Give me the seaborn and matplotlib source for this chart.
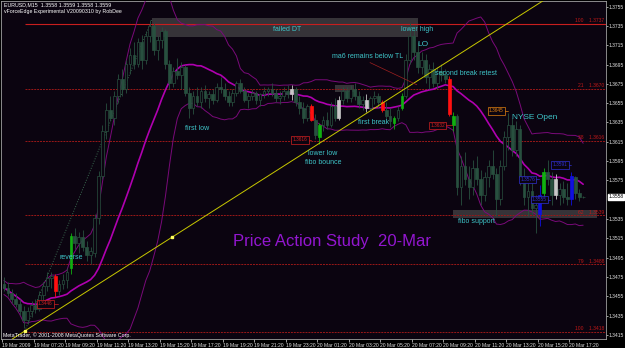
import numpy as np
import pandas as pd
import matplotlib
matplotlib.use("Agg")
import matplotlib.pyplot as plt
import matplotlib.transforms as mtransforms
from matplotlib.patches import Rectangle
import seaborn as sns

# EURUSD M15 bars, prices in pips above 1.3400
opens = [68, 64, 58, 52, 47, 40, 30, 40, 46, 42, 56, 66, 74, 76, 60, 68, 72, 84, 117, 110,
         116, 106, 98, 100, 136, 180, 226, 248, 240, 262, 280, 270, 296, 305, 296, 318, 300, 325, 335, 310,
         320, 330, 296, 276, 288, 284, 292, 266, 250, 262, 256, 268, 260, 264, 258, 272, 270, 262, 256, 266,
         276, 268, 258, 262, 266, 258, 264, 268, 270, 266, 260, 262, 268, 264, 270, 256, 250, 240, 252, 238,
         220, 232, 238, 232, 252, 240, 258, 268, 260, 270, 262, 254, 258, 250, 260, 262, 256, 248, 242, 234,
         240, 250, 262, 300, 325, 308, 292, 300, 282, 290, 276, 288, 284, 280, 232, 242, 168, 190, 176, 168,
         188, 176, 160, 178, 190, 182, 156, 190, 220, 232, 206, 228, 178, 158, 164, 146, 160, 162, 184, 176,
         176, 160, 166, 158, 156, 178, 162, 158]
highs = [75, 70, 62, 58, 52, 45, 44, 50, 52, 60, 70, 80, 80, 78, 72, 78, 84, 120, 126, 122,
         124, 112, 106, 140, 185, 232, 255, 262, 268, 285, 290, 300, 312, 318, 322, 326, 330, 341, 338, 325,
         334, 332, 300, 292, 302, 298, 294, 272, 268, 272, 272, 274, 268, 270, 276, 282, 276, 268, 270, 278,
         280, 272, 266, 270, 268, 266, 272, 272, 276, 270, 268, 272, 274, 274, 272, 262, 256, 254, 254, 244,
         234, 242, 246, 256, 260, 262, 272, 272, 274, 276, 268, 262, 264, 262, 268, 266, 258, 256, 250, 242,
         252, 266, 306, 338, 334, 318, 308, 306, 296, 298, 292, 296, 290, 283, 246, 244, 200, 204, 190, 196,
         200, 186, 184, 196, 206, 188, 196, 226, 245, 240, 236, 232, 188, 172, 176, 160, 170, 188, 196, 184,
         182, 172, 174, 172, 184, 180, 166, 159]
lows = [60, 55, 48, 44, 36, 22, 26, 34, 38, 40, 50, 60, 64, 54, 56, 62, 64, 78, 104, 100,
        102, 92, 88, 96, 130, 176, 218, 236, 232, 255, 262, 265, 285, 290, 292, 290, 296, 318, 305, 300,
        312, 290, 270, 272, 280, 270, 262, 240, 244, 252, 250, 256, 250, 254, 256, 266, 258, 252, 252, 262,
        266, 256, 250, 258, 254, 252, 260, 262, 262, 256, 254, 258, 260, 258, 252, 244, 234, 236, 236, 218,
        213, 226, 228, 230, 236, 238, 254, 256, 256, 258, 250, 248, 246, 248, 254, 250, 246, 236, 230, 228,
        236, 248, 260, 296, 300, 286, 285, 276, 270, 272, 270, 278, 276, 242, 226, 160, 150, 170, 156, 160,
        170, 150, 154, 168, 176, 138, 150, 186, 206, 200, 200, 170, 150, 138, 140, 120, 128, 156, 170, 150,
        156, 150, 152, 150, 150, 156, 154, 157]
closes = [64, 58, 52, 47, 40, 30, 40, 46, 42, 56, 66, 74, 76, 60, 68, 72, 80, 117, 110, 116,
          106, 98, 102, 136, 180, 226, 248, 240, 262, 280, 270, 296, 305, 296, 318, 300, 325, 335, 310, 320,
          330, 296, 276, 288, 284, 292, 266, 250, 262, 256, 268, 260, 264, 258, 272, 270, 262, 256, 266, 276,
          268, 258, 262, 266, 258, 264, 268, 270, 266, 260, 262, 268, 264, 270, 256, 250, 240, 252, 238, 222,
          232, 238, 232, 252, 240, 258, 268, 260, 270, 262, 254, 258, 250, 260, 262, 256, 248, 242, 236, 240,
          248, 262, 300, 325, 308, 292, 300, 282, 290, 276, 288, 284, 280, 244, 242, 168, 190, 176, 168, 188,
          176, 160, 178, 190, 182, 156, 190, 220, 232, 206, 228, 178, 158, 164, 146, 150, 140, 184, 176, 160,
          160, 166, 158, 156, 180, 162, 158, 158]

# highlighted bars (bar index -> colour)
marked_bars = {13: "#ff1010", 17: "#10b010", 73: "#c8c8c8", 78: "#ff1010", 80: "#10b010",
               85: "#c8c8c8", 92: "#c8c8c8", 96: "#ff1010", 99: "#10b010", 101: "#10b010",
               113: "#ff1010", 114: "#10b010", 136: "#1010e0", 137: "#10b010",
               140: "#c8c8c8", 144: "#1010e0"}

fib_levels = [1.3737, 1.3670, 1.3616, 1.3539, 1.3488, 1.3418]
fib_names = ["100", "21", "38", "62", "79", "100"]
fib_start_bar = 5.3

price_ticks = [1.3755, 1.3735, 1.3715, 1.3695, 1.3675, 1.3655, 1.3635, 1.3615, 1.3595,
               1.3575, 1.3535, 1.3515, 1.3495, 1.3475, 1.3455, 1.3435, 1.3415]
time_labels = ["19 Mar 2009", "19 Mar 07:20", "19 Mar 09:20", "19 Mar 11:20", "19 Mar 13:20",
               "19 Mar 15:20", "19 Mar 17:20", "19 Mar 19:20", "19 Mar 21:20", "19 Mar 23:20",
               "20 Mar 01:20", "20 Mar 03:20", "20 Mar 05:20", "20 Mar 07:20", "20 Mar 09:20",
               "20 Mar 11:20", "20 Mar 13:20", "20 Mar 15:20", "20 Mar 17:20"]

# trendline anchors (bar, price)
trend_bars = [5.3, 42.6]
trend_prices = [1.3419, 1.3516]

# shaded zones: start bar, end bar, low, high
zone_start = [37.6, 84.0, 114.0]
zone_end = [105.1, 88.8, 150.5]
zone_low = [1.3724, 1.3667, 1.3536]
zone_high = [1.3743, 1.3674, 1.3544]

notes = [("failed DT", 71.8, 1.3731, 5), ("lower high", 104.8, 1.3731, 5), ("LO", 106.4, 1.3716, 6),
         ("ma6 remains below TL", 92.4, 1.3703, 5), ("second break retest", 117.3, 1.3686, 5),
         ("first low", 49.0, 1.3629, 5), ("first break", 93.7, 1.3635, 5),
         ("lower low", 81.0, 1.3603, 5), ("fibo bounce", 81.0, 1.3594, 5),
         ("reverse", 17.0, 1.3495, 5), ("NYSE Open", 134.8, 1.3640, 6),
         ("fibo support", 120.0, 1.3532, 5)]

# small price tags: right edge bar, price, text, colour, pointer end bar
tags = [(12.3, 1.3447, "1.3446", "#d02020", 13.7), (77.0, 1.3617, "1.3616", "#d02020", 78.0),
        (111.9, 1.3632, "1.3632", "#d02020", 113.7), (126.8, 1.3647, "1.3645", "#e08010", 128.0),
        (134.8, 1.3576, "1.3576", "#3030d0", 135.8), (137.8, 1.3555, "1.3555", "#3030d0", 138.5),
        (143.0, 1.3591, "1.3591", "#3030d0", 144.0)]

BG = "#0b0410"
BASE = "#28503f"

sns.set_theme(style="dark", rc={"axes.facecolor": BG, "figure.facecolor": "#000000"})
plt.rcParams["font.family"] = ["Liberation Sans", "DejaVu Sans"]

n = len(closes)
bars = np.arange(n)
o = 1.34 + np.array(opens) / 10000
h = 1.34 + np.array(highs) / 10000
l = 1.34 + np.array(lows) / 10000
c = 1.34 + np.array(closes) / 10000

df = pd.DataFrame({"bar": bars, "close": c})
df["mid"] = df["close"].rolling(20, min_periods=1).mean()
sd = df["close"].rolling(20, min_periods=2).std().bfill()
df["upper"] = df["mid"] + 1.7 * sd
df["lower"] = df["mid"] - 1.7 * sd

fig = plt.figure(figsize=(6.25, 3.48), dpi=100)
ax = fig.add_axes([1 / 625, 9 / 348, 605 / 625, 338 / 348])
ax.set_xlim(-0.75, 152.8)
ax.set_ylim(1.34107, 1.37608)

# zones
for x0, x1, y0, y1 in zip(zone_start, zone_end, zone_low, zone_high):
    ax.add_patch(Rectangle((x0, y0), x1 - x0, y1 - y0, facecolor="#5a5a5a", alpha=0.55,
                           edgecolor="none", zorder=1))

# fib lines
x_right = ax.get_xlim()[1]
ax.hlines(fib_levels[0], fib_start_bar, x_right, color="#c81e1e", lw=0.8, zorder=2)
ax.hlines(fib_levels[1:], fib_start_bar, x_right, color="#9a1818", lw=0.7, linestyles=(0, (2, 1)), zorder=2)
for lev, name in zip(fib_levels, fib_names):
    ax.text(x_right - 0.4, lev + 0.00005, f"{name}    {lev:.4f}", ha="right", va="bottom",
            color="#c01818", fontsize=3.6, zorder=6)

# bands
sns.lineplot(data=df, x="bar", y="upper", ax=ax, color="#7a0a7a", lw=0.7, zorder=3)
sns.lineplot(data=df, x="bar", y="lower", ax=ax, color="#7a0a7a", lw=0.7, zorder=3)
sns.lineplot(data=df, x="bar", y="mid", ax=ax, color="#b000b0", lw=1.2, zorder=3)

# candles
wick_col = [marked_bars.get(i, BASE) for i in bars]
face_col = [marked_bars.get(i, BG if c[i] >= o[i] else BASE) for i in bars]
ax.vlines(bars, l, h, colors=wick_col, lw=0.6, zorder=4)
body_lo = np.minimum(o, c)
body_h = np.maximum(np.abs(c - o), 0.00003)
ax.bar(bars, body_h, bottom=body_lo, width=0.7, color=face_col, edgecolor=wick_col,
       linewidth=0.5, zorder=5)

# trendline and the dotted leg line
ax.axline((trend_bars[0], trend_prices[0]), (trend_bars[1], trend_prices[1]),
          color="#c8c800", lw=0.7, zorder=6)
ax.plot(trend_bars, trend_prices, "s", color="#ffff60", ms=2, zorder=7)
ax.plot([trend_bars[0], 37.5], [trend_prices[0], 1.3741], color="#3a6a50", lw=0.7, ls=":", zorder=3)
ax.plot([92.9, 104.8], [1.3697, 1.3674], color="#a02020", lw=0.5, zorder=6)

# texts
for txt, xb, yp, fs in notes:
    ax.text(xb, yp, txt, ha="center", va="center", color="#3ec4c8", fontsize=fs, zorder=8)
ax.text(83.3, 1.3512, "Price Action Study  20-Mar", ha="center", va="center",
        color="#9316d0", fontsize=12, zorder=8)

for xb, yp, txt, col, xe in tags:
    ax.text(xb, yp, txt, ha="right", va="center", color=col, fontsize=3.4, zorder=8,
            bbox=dict(boxstyle="square,pad=0.25", fc=BG, ec=col, lw=0.5))
    ax.plot([xb + 0.3, xe], [yp, yp], color=col, lw=0.5, zorder=8)

fig.text(4 / 625, 1 - 5 / 348, "EURUSD,M15  1.3558 1.3559 1.3558 1.3559", color="white",
         fontsize=3.8, va="center")
fig.text(4 / 625, 1 - 11 / 348, "vForceEdge Experimental V20090310 by RobDee", color="white",
         fontsize=3.8, va="center")
fig.text(3 / 625, 1 - 335 / 348, "MetaTrader, \u00a9 2001-2008 MetaQuotes Software Corp.",
         color="white", fontsize=3.8, va="center")

# axes
ax.yaxis.tick_right()
ax.set_yticks(price_ticks)
ax.set_yticklabels([f"{t:.4f}" for t in price_ticks])
ax.set_xticks([8 * k - 0.5 for k in range(len(time_labels))])
ax.set_xticklabels(time_labels)
for lab in ax.get_xticklabels():
    lab.set_ha("left")
ax.tick_params(axis="y", labelsize=3.6, length=1.5, pad=0.5)
ax.tick_params(axis="x", labelsize=3.6, length=2, pad=1)
ax.tick_params(axis="both", colors="#e0e0e0", width=0.5, bottom=True, right=True, left=False,
               labelcolor="#e0e0e0")
ax.set_xlabel("")
ax.set_ylabel("")
ax.grid(False)
for sp in ax.spines.values():
    sp.set_color("#a0a0a0")
    sp.set_linewidth(0.6)

blend = mtransforms.blended_transform_factory(ax.transAxes, ax.transData)
ax.text(1.004, 1.3558, "1.3558", transform=blend, ha="left", va="center", fontsize=3.6,
        color="black", bbox=dict(boxstyle="square,pad=0.15", fc="white", ec="white"), zorder=9)

fig.savefig("out.png", dpi=100, facecolor="#000000")
